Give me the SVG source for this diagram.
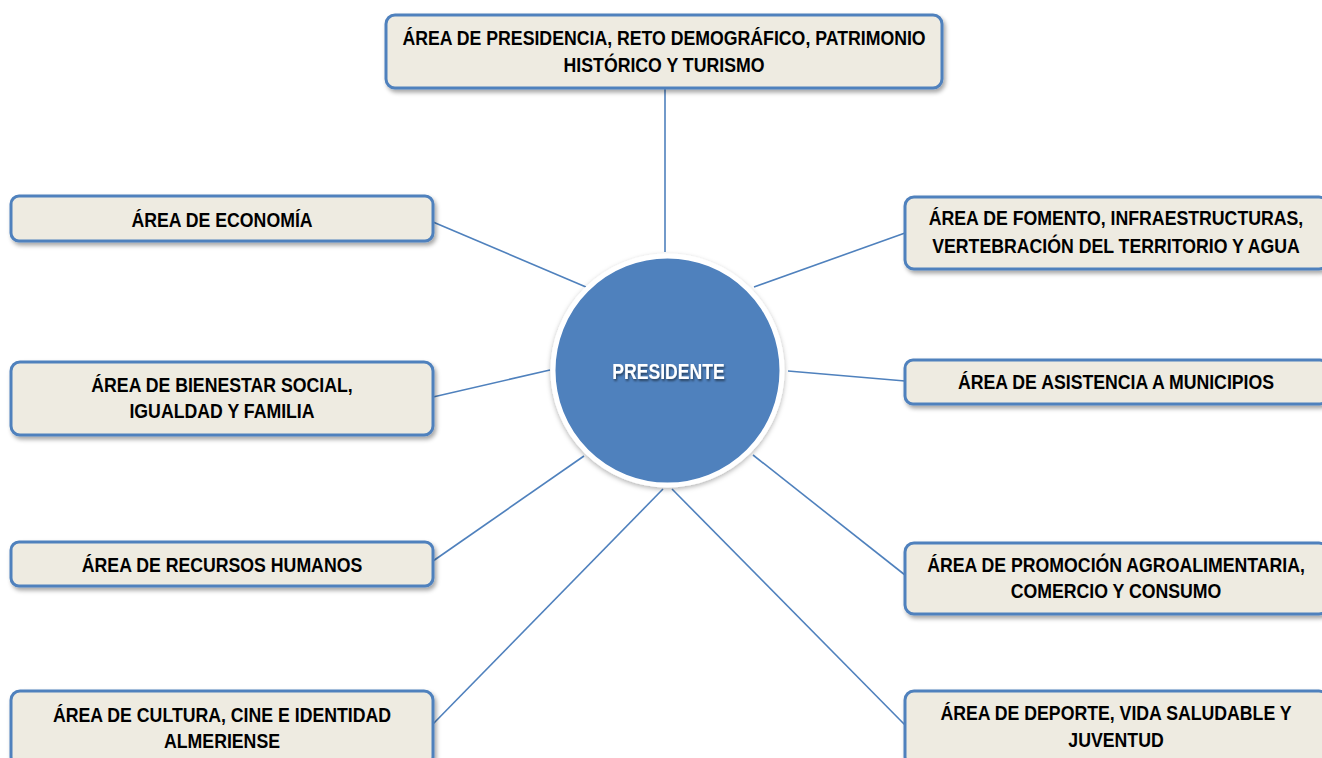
<svg xmlns="http://www.w3.org/2000/svg" width="1322" height="758" viewBox="0 0 1322 758">
<defs>
<filter id="sh" x="-10%" y="-20%" width="125%" height="150%">
<feGaussianBlur in="SourceAlpha" stdDeviation="2"/>
<feOffset dx="2" dy="3" result="b"/>
<feFlood flood-color="#000" flood-opacity="0.35"/>
<feComposite in2="b" operator="in"/>
<feMerge><feMergeNode/><feMergeNode in="SourceGraphic"/></feMerge>
</filter>
<filter id="tsh" x="-10%" y="-30%" width="120%" height="160%">
<feGaussianBlur in="SourceAlpha" stdDeviation="1"/>
<feOffset dx="1" dy="1.5" result="b"/>
<feFlood flood-color="#000" flood-opacity="0.5"/>
<feComposite in2="b" operator="in"/>
<feMerge><feMergeNode/><feMergeNode in="SourceGraphic"/></feMerge>
</filter>
<filter id="csh" x="-10%" y="-10%" width="120%" height="120%">
<feGaussianBlur in="SourceAlpha" stdDeviation="2.5"/>
<feOffset dx="0" dy="2" result="b"/>
<feFlood flood-color="#000" flood-opacity="0.3"/>
<feComposite in2="b" operator="in"/>
<feMerge><feMergeNode/><feMergeNode in="SourceGraphic"/></feMerge>
</filter>
</defs>
<style>
.box{fill:#EEEBE1;stroke:#4F81BD;stroke-width:3;filter:url(#sh)}
.t{font-family:"Liberation Sans Narrow","Arial Narrow","Liberation Sans",sans-serif;font-weight:bold;font-size:20px;fill:#000;text-anchor:middle}
.c{stroke:#4F81BD;stroke-width:1.6;fill:none}
</style>
<rect width="1322" height="758" fill="#fff"/>
<g id="connectors">
<line class="c" x1="665" y1="88" x2="665" y2="252"/>
<line class="c" x1="433" y1="222" x2="586" y2="287"/>
<line class="c" x1="905" y1="233" x2="754" y2="287"/>
<line class="c" x1="433" y1="397" x2="550" y2="370"/>
<line class="c" x1="905" y1="381" x2="788" y2="371"/>
<line class="c" x1="433" y1="561" x2="584" y2="456"/>
<line class="c" x1="905" y1="575" x2="753" y2="455"/>
<line class="c" x1="433" y1="724" x2="663" y2="489"/>
<line class="c" x1="905" y1="725" x2="672" y2="489"/>
</g>
<g id="presidente">
<circle cx="667.5" cy="370.5" r="114.5" fill="#4F81BD" stroke="#fff" stroke-width="5" filter="url(#csh)"/>
<text class="t" transform="translate(668.5,379) scale(0.8,1)" style="fill:#fff;font-size:22px" filter="url(#tsh)">PRESIDENTE</text>
</g>
<g id="presidencia">
<rect class="box" x="386" y="15" width="556" height="73" rx="9"/>
<text class="t" transform="translate(664,45) scale(0.885,1)">ÁREA DE PRESIDENCIA, RETO DEMOGRÁFICO, PATRIMONIO</text>
<text class="t" transform="translate(664,72) scale(0.885,1)">HISTÓRICO Y TURISMO</text>
</g>
<g id="economia">
<rect class="box" x="11" y="196" width="422" height="45" rx="8"/>
<text class="t" transform="translate(222,227) scale(0.885,1)">ÁREA DE ECONOMÍA</text>
</g>
<g id="bienestar">
<rect class="box" x="11" y="362" width="422" height="73" rx="9"/>
<text class="t" transform="translate(222,392) scale(0.885,1)">ÁREA DE BIENESTAR SOCIAL,</text>
<text class="t" transform="translate(222,418) scale(0.885,1)">IGUALDAD Y FAMILIA</text>
</g>
<g id="recursos">
<rect class="box" x="11" y="542" width="422" height="44" rx="8"/>
<text class="t" transform="translate(222,572) scale(0.885,1)">ÁREA DE RECURSOS HUMANOS</text>
</g>
<g id="cultura">
<rect class="box" x="11" y="691" width="422" height="75" rx="9"/>
<text class="t" transform="translate(222,722) scale(0.885,1)">ÁREA DE CULTURA, CINE E IDENTIDAD</text>
<text class="t" transform="translate(222,748) scale(0.885,1)">ALMERIENSE</text>
</g>
<g id="fomento">
<rect class="box" x="905" y="197" width="423" height="72" rx="9"/>
<text class="t" transform="translate(1116,225) scale(0.885,1)">ÁREA DE FOMENTO, INFRAESTRUCTURAS,</text>
<text class="t" transform="translate(1116,253) scale(0.885,1)">VERTEBRACIÓN DEL TERRITORIO Y AGUA</text>
</g>
<g id="asistencia">
<rect class="box" x="905" y="360" width="423" height="44" rx="8"/>
<text class="t" transform="translate(1116,389) scale(0.885,1)">ÁREA DE ASISTENCIA A MUNICIPIOS</text>
</g>
<g id="promocion">
<rect class="box" x="905" y="543" width="423" height="71" rx="9"/>
<text class="t" transform="translate(1116,572) scale(0.885,1)">ÁREA DE PROMOCIÓN AGROALIMENTARIA,</text>
<text class="t" transform="translate(1116,598) scale(0.885,1)">COMERCIO Y CONSUMO</text>
</g>
<g id="deporte">
<rect class="box" x="905" y="691" width="423" height="75" rx="9"/>
<text class="t" transform="translate(1116,720) scale(0.885,1)">ÁREA DE DEPORTE, VIDA SALUDABLE Y</text>
<text class="t" transform="translate(1116,747) scale(0.885,1)">JUVENTUD</text>
</g>
</svg>
